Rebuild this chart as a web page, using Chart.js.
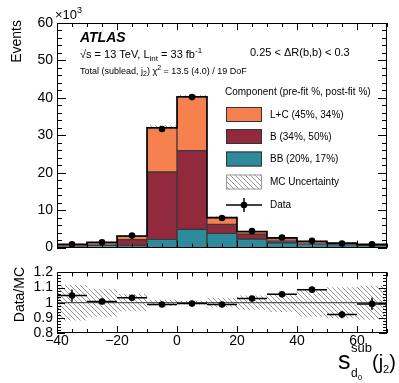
<!DOCTYPE html>
<html>
<head>
<meta charset="utf-8">
<script src="https://cdn.jsdelivr.net/npm/chart.js@4.4.0/dist/chart.umd.min.js"></script>
<style>
  html, body { margin: 0; padding: 0; background: #fff; }
  #wrap { position: relative; width: 399px; height: 383px; }
  #main { position: absolute; left: 0; top: 0; }
  #ratio { position: absolute; left: 0; top: 260px; }
</style>
</head>
<body>
<div id="wrap">
  <canvas id="main" width="399" height="260"></canvas>
  <canvas id="ratio" width="399" height="123"></canvas>
</div>
<script>
// bins of s_d0^sub(j2), width 10
const binCenters = [-35, -25, -15, -5, 5, 15, 25, 35, 45, 55, 65];
const binEdges = [-40, -30, -20, -10, 0, 10, 20, 30, 40, 50, 60, 70];

// stacked components, events x 10^3
const lcVals = [0.11, 0.4, 1.0, 11.8, 14.4, 1.8, 0.7, 0.7, 0.35, 0.1, 0.12];
const bVals  = [0.45, 0.5, 1.5, 18.0, 21.0, 2.4, 1.3, 0.6, 0.3, 0.3, 0.15];
const bbVals = [0.3, 0.5, 0.6, 2.2, 4.9, 3.8, 2.3, 1.3, 1.0, 0.8, 0.6];
const dataVals = [0.9, 1.4, 3.2, 31.7, 40.2, 7.9, 4.4, 2.7, 1.8, 1.1, 0.86];

// relative MC uncertainty and Data/MC
const mcRelUnc = [0.115, 0.09, 0.055, 0.018, 0.01, 0.03, 0.045, 0.06, 0.09, 0.1, 0.11];
const ratioVals = [1.047, 1.008, 1.033, 0.988, 0.994, 0.988, 1.027, 1.055, 1.086, 0.922, 0.992];
const ratioErr  = [0.04, 0.02, 0.01, 0.005, 0.004, 0.008, 0.01, 0.012, 0.02, 0.025, 0.04];

const xTicks = [-40, -20, 0, 20, 40, 60];
const mainYTicks = [0, 10, 20, 30, 40, 50, 60];
const ratioYTicks = [0.8, 0.9, 1.0, 1.1, 1.2];

const FONT = '"Liberation Sans", Arial, Helvetica, sans-serif';
const colLC = '#f7804f', colB = '#922a3e', colBB = '#2f8a9b';

const bbTop = bbVals.map(v => v);
const bTop = bbVals.map((v, i) => v + bVals[i]);
const total = bTop.map((v, i) => v + lcVals[i]);

function hatch(ctx) {
  const c = document.createElement('canvas');
  c.width = 5; c.height = 5;
  const g = c.getContext('2d');
  g.strokeStyle = '#8a8a8a';
  g.lineWidth = 0.9;
  g.beginPath();
  g.moveTo(-1, -1); g.lineTo(6, 6);
  g.moveTo(-1, 4); g.lineTo(1, 6);
  g.moveTo(4, -1); g.lineTo(6, 1);
  g.stroke();
  return ctx.createPattern(c, 'repeat');
}

function fmt(v) {
  const s = String(Math.round(v * 100) / 100);
  return v < 0 ? '\u2212' + s.slice(1) : s;
}

// text with sub/superscript runs: [text, size, dy, style]
function runs(ctx, x, y, parts, align) {
  let w = 0;
  parts.forEach(p => { ctx.font = (p[3] || '') + ' ' + p[1] + 'px ' + FONT; w += ctx.measureText(p[0]).width; });
  let cx = align === 'right' ? x - w : x;
  ctx.textAlign = 'left';
  ctx.textBaseline = 'alphabetic';
  parts.forEach(p => {
    ctx.font = (p[3] || '') + ' ' + p[1] + 'px ' + FONT;
    ctx.fillText(p[0], cx, y + (p[2] || 0));
    cx += ctx.measureText(p[0]).width;
  });
}

function frameTicks(opt) {
  return {
    id: 'frameTicks',
    afterDraw(chart) {
      const {ctx, chartArea: a, scales: {x, y}} = chart;
      ctx.save();
      ctx.strokeStyle = '#000';
      ctx.lineWidth = 1;
      ctx.beginPath();
      const nx = Math.round((x.max - x.min) / opt.xMinor);
      for (let i = 0; i <= nx; i++) {
        const v = x.min + i * opt.xMinor;
        const px = Math.round(x.getPixelForValue(v)) + 0.5;
        const major = Math.abs(v / opt.xMajor - Math.round(v / opt.xMajor)) < 1e-6;
        const L = major ? opt.xMaj : opt.xMin;
        ctx.moveTo(px, a.bottom); ctx.lineTo(px, a.bottom - L);
        ctx.moveTo(px, a.top); ctx.lineTo(px, a.top + L);
      }
      const ny = Math.round((y.max - y.min) / opt.yMinor);
      for (let i = 0; i <= ny; i++) {
        const v = y.min + i * opt.yMinor;
        const py = Math.round(y.getPixelForValue(v)) + 0.5;
        const major = Math.abs((v - y.min) / opt.yMajor - Math.round((v - y.min) / opt.yMajor)) < 1e-6;
        const L = major ? opt.yMaj : opt.yMin;
        ctx.moveTo(a.left, py); ctx.lineTo(a.left + L, py);
        ctx.moveTo(a.right, py); ctx.lineTo(a.right - L, py);
      }
      ctx.stroke();
      ctx.strokeRect(Math.round(a.left) + 0.5, Math.round(a.top) + 0.5, Math.round(a.width) - 1, Math.round(a.height) - 1);
      ctx.restore();
    }
  };
}

const mainCtx = document.getElementById('main').getContext('2d');
const ratioCtx = document.getElementById('ratio').getContext('2d');
const hatchMain = hatch(mainCtx);
const hatchRatio = hatch(ratioCtx);

const outline = binCenters.map((c, i) => ({x: binEdges[i], y: total[i]}));
outline.push({x: binEdges[binEdges.length - 1], y: total[total.length - 1]});

const barCommon = {grouped: false, barPercentage: 1, categoryPercentage: 1, borderSkipped: false};

const mainText = {
  id: 'mainText',
  afterDraw(chart) {
    const ctx = chart.ctx;
    ctx.save();
    ctx.fillStyle = '#000';
    runs(ctx, 55, 19, [['\u00d710', 13], ['3', 9, -6]]);
    ctx.save();
    ctx.translate(21, 20);
    ctx.rotate(-Math.PI / 2);
    runs(ctx, 0, 0, [['Events', 14]], 'right');
    ctx.restore();
    runs(ctx, 80, 42, [['ATLAS', 14, 0, 'italic bold']]);
    runs(ctx, 80, 58, [['\u221as = 13 TeV, L', 11], ['int', 8, 3], [' = 33 fb', 11], ['-1', 8, -5]]);
    runs(ctx, 80, 74, [['Total (sublead, j', 9], ['2', 7, 2], [') \u03c7', 9], ['2', 7, -4], [' = 13.5 (4.0) / 19 DoF', 9]]);
    runs(ctx, 250, 56, [['0.25 < \u0394R(b,b) < 0.3', 11]]);
    runs(ctx, 225, 95, [['Component (pre-fit %, post-fit %)', 10]]);
    const rows = [
      ['L+C (45%, 34%)', colLC, 114.5],
      ['B (34%, 50%)', colB, 136.5],
      ['BB (20%, 17%)', colBB, 159],
      ['MC Uncertainty', hatchMain, 182],
      ['Data', null, 205]
    ];
    rows.forEach(r => {
      if (r[1]) {
        ctx.fillStyle = r[1];
        ctx.fillRect(226, r[2] - 7.5, 36, 15);
        ctx.strokeStyle = r[1] === hatchMain ? '#999' : '#333';
        ctx.lineWidth = 1;
        ctx.strokeRect(226.5, r[2] - 7, 35, 14);
      } else {
        ctx.strokeStyle = '#000';
        ctx.lineWidth = 1.5;
        ctx.beginPath();
        ctx.moveTo(226, r[2]); ctx.lineTo(262, r[2]);
        ctx.moveTo(244, r[2] - 7); ctx.lineTo(244, r[2] + 7);
        ctx.stroke();
        ctx.fillStyle = '#000';
        ctx.beginPath(); ctx.arc(244, r[2], 3.3, 0, Math.PI * 2); ctx.fill();
      }
      ctx.fillStyle = '#000';
      ctx.font = '10px ' + FONT;
      ctx.textBaseline = 'middle';
      ctx.fillText(r[0], 270, r[2] + 0.5);
    });
    ctx.restore();
  }
};

new Chart(mainCtx, {
  type: 'bar',
  data: {
    datasets: [
      {type: 'line', data: binCenters.map((c, i) => ({x: c, y: dataVals[i]})), showLine: false,
       pointRadius: 3.3, pointBackgroundColor: '#000', pointBorderWidth: 0},
      {type: 'line', data: outline, stepped: 'before', borderColor: '#000', borderWidth: 1.6,
       pointRadius: 0, fill: false},
      Object.assign({data: binCenters.map((c, i) => ({x: c, y: [total[i] * (1 - mcRelUnc[i]), total[i] * (1 + mcRelUnc[i])]})),
        backgroundColor: hatchMain, borderWidth: 0}, barCommon),
      Object.assign({data: binCenters.map((c, i) => ({x: c, y: [bTop[i], total[i]]})),
        backgroundColor: colLC, borderColor: '#3a3a3a', borderWidth: 1}, barCommon),
      Object.assign({data: binCenters.map((c, i) => ({x: c, y: [bbTop[i], bTop[i]]})),
        backgroundColor: colB, borderColor: '#3a3a3a', borderWidth: 1}, barCommon),
      Object.assign({data: binCenters.map((c, i) => ({x: c, y: [0, bbTop[i]]})),
        backgroundColor: colBB, borderColor: '#3a3a3a', borderWidth: 1}, barCommon)
    ]
  },
  options: {
    responsive: false,
    animation: false,
    events: [],
    layout: {padding: {left: 0, top: 23, right: 12, bottom: 6}},
    plugins: {legend: {display: false}, tooltip: {enabled: false}},
    scales: {
      x: {
        type: 'linear', min: -40, max: 70, offset: false,
        afterBuildTicks: s => { s.ticks = xTicks.map(v => ({value: v})); },
        afterFit: s => { s.height = 0; },
        ticks: {display: false},
        grid: {display: false, drawTicks: false},
        border: {display: false}
      },
      y: {
        min: 0, max: 60,
        afterBuildTicks: s => { s.ticks = mainYTicks.map(v => ({value: v})); },
        afterFit: s => { s.width = 57; },
        ticks: {padding: 4, autoSkip: false, color: '#000', font: {family: FONT, size: 14}, callback: v => fmt(v)},
        grid: {display: false, drawTicks: false},
        border: {display: false}
      }
    }
  },
  plugins: [frameTicks({xMinor: 5, xMajor: 20, xMaj: 7, xMin: 4, yMinor: 2, yMajor: 10, yMaj: 9, yMin: 5}), mainText]
});

const ratioExtras = {
  id: 'ratioExtras',
  afterDatasetsDraw(chart) {
    const {ctx, scales: {x, y}} = chart;
    ctx.save();
    ctx.strokeStyle = '#000';
    ctx.lineWidth = 1.5;
    ctx.beginPath();
    binCenters.forEach((c, i) => {
      const py = y.getPixelForValue(ratioVals[i]);
      ctx.moveTo(x.getPixelForValue(binEdges[i]), py);
      ctx.lineTo(x.getPixelForValue(binEdges[i + 1]), py);
      const px = x.getPixelForValue(c);
      ctx.moveTo(px, y.getPixelForValue(ratioVals[i] - ratioErr[i]));
      ctx.lineTo(px, y.getPixelForValue(ratioVals[i] + ratioErr[i]));
    });
    ctx.stroke();
    ctx.restore();
  },
  afterDraw(chart) {
    const ctx = chart.ctx;
    ctx.save();
    ctx.fillStyle = '#000';
    ctx.translate(24, 7);
    ctx.rotate(-Math.PI / 2);
    runs(ctx, 0, 0, [['Data/MC', 14]], 'right');
    ctx.restore();
    ctx.save();
    ctx.fillStyle = '#000';
    runs(ctx, 338, 109, [['s', 25]]);
    runs(ctx, 351, 92, [['sub', 13]]);
    runs(ctx, 351, 117, [['d', 12], ['0', 8, 3]]);
    runs(ctx, 372, 109, [['(j', 20], ['2', 11, 4], [')', 20]]);
    ctx.restore();
  }
};

new Chart(ratioCtx, {
  type: 'bar',
  data: {
    datasets: [
      {type: 'line', data: binCenters.map((c, i) => ({x: c, y: ratioVals[i]})), showLine: false,
       pointRadius: 3.3, pointBackgroundColor: '#000', pointBorderWidth: 0},
      {type: 'line', data: [{x: binEdges[0], y: 1}, {x: binEdges[binEdges.length - 1], y: 1}],
       borderColor: '#333', borderWidth: 1, pointRadius: 0},
      Object.assign({data: binCenters.map((c, i) => ({x: c, y: [1 - mcRelUnc[i], 1 + mcRelUnc[i]]})),
        backgroundColor: hatchRatio, borderWidth: 0}, barCommon)
    ]
  },
  options: {
    responsive: false,
    animation: false,
    events: [],
    layout: {padding: {left: 0, top: 7, right: 12, bottom: 0}},
    plugins: {legend: {display: false}, tooltip: {enabled: false}},
    scales: {
      x: {
        type: 'linear', min: -40, max: 70, offset: false,
        afterBuildTicks: s => { s.ticks = xTicks.map(v => ({value: v})); },
        afterFit: s => { s.height = 50; },
        ticks: {padding: 0, maxRotation: 0, autoSkip: false, color: '#000', font: {family: FONT, size: 14}, callback: v => fmt(v)},
        grid: {display: false, drawTicks: false},
        border: {display: false}
      },
      y: {
        min: 0.8, max: 1.2,
        afterBuildTicks: s => { s.ticks = ratioYTicks.map(v => ({value: v})); },
        afterFit: s => { s.width = 57; },
        ticks: {padding: 4, autoSkip: false, color: '#000', font: {family: FONT, size: 14}, callback: v => fmt(v)},
        grid: {display: false, drawTicks: false},
        border: {display: false}
      }
    }
  },
  plugins: [frameTicks({xMinor: 5, xMajor: 20, xMaj: 7, xMin: 4, yMinor: 0.02, yMajor: 0.1, yMaj: 8, yMin: 4}), ratioExtras]
});
</script>
</body>
</html>
